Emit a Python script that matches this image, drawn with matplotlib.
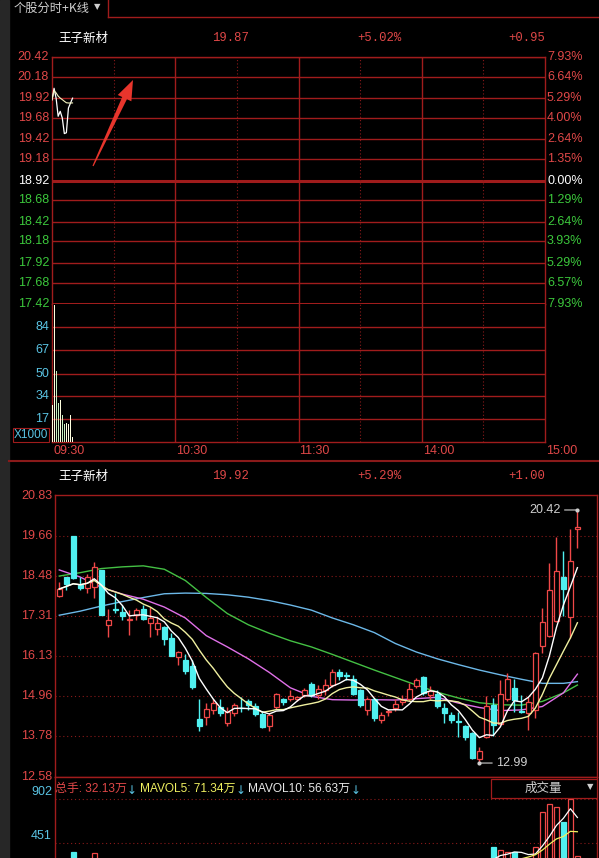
import numpy as np
import pandas as pd
import matplotlib
matplotlib.use("Agg")
import matplotlib.pyplot as plt
from matplotlib.patches import Rectangle, Polygon
from matplotlib.lines import Line2D

plt.rcParams['font.family'] = ['Liberation Sans', 'Noto Sans CJK SC', 'DejaVu Sans']

# ---------------- data ----------------
stock_name = "王子新材"
panel_title = "个股分时+K线"

# intraday minute data
intra_price = [19.90, 20.04, 19.92, 19.70, 19.76, 19.68, 19.49, 19.50, 19.80, 19.86, 19.92]
intra_vol = [27.1, 100.3, 52.2, 28.8, 30.7, 19.8, 13.2, 13.7, 13.0, 19.8, 3.9]
intra_price_ticks = [20.42, 20.18, 19.92, 19.68, 19.42, 19.18, 18.92, 18.68, 18.42, 18.18, 17.92, 17.68, 17.42]
intra_pct_labels = ["7.93%", "6.64%", "5.29%", "4.00%", "2.64%", "1.35%", "0.00%",
                    "1.29%", "2.64%", "3.93%", "5.29%", "6.57%", "7.93%"]
intra_vol_ticks = [17, 34, 50, 67, 84]
time_labels = ["09:30", "10:30", "11:30", "14:00", "15:00"]
time_pos = [0, 60, 120, 180, 240]
prev_close = 18.92
intra_header = ["19.87", "+5.02%", "+0.95"]
k_header = ["19.92", "+5.29%", "+1.00"]

# daily candles
opens = [17.89, 18.45, 19.66, 18.21, 18.12, 18.15, 18.65, 17.04, 17.52, 17.43,
         17.19, 17.33, 17.51, 17.10, 16.92, 16.99, 16.65, 16.11, 16.02, 15.84,
         14.27, 14.33, 14.55, 14.64, 14.18, 14.45, 14.62, 14.81, 14.66, 14.43,
         14.07, 14.64, 14.87, 14.87, 14.88, 14.99, 15.30, 14.99, 15.13, 15.28,
         15.67, 15.58, 15.47, 15.13, 14.55, 14.86, 14.24, 14.48, 14.61, 14.78,
         14.87, 15.24, 15.53, 14.99, 15.02, 14.60, 14.39, 14.22, 14.07, 13.86,
         13.11, 13.76, 14.69, 14.15, 14.88, 15.18, 14.53, 14.45, 14.55, 16.42,
         16.73, 17.16, 18.46, 17.29, 19.87]
closes = [18.10, 18.25, 18.41, 18.14, 18.44, 18.76, 17.35, 17.18, 17.48, 17.32,
          17.22, 17.47, 17.22, 17.26, 17.11, 16.62, 16.14, 16.24, 15.70, 15.23,
          14.07, 14.57, 14.76, 14.45, 14.50, 14.69, 14.60, 14.70, 14.42, 14.05,
          14.39, 15.02, 14.77, 14.96, 14.94, 15.13, 14.99, 15.15, 15.28, 15.67,
          15.56, 15.56, 15.03, 14.69, 14.86, 14.30, 14.39, 14.51, 14.72, 14.83,
          15.16, 15.43, 15.04, 15.10, 14.66, 14.45, 14.24, 14.20, 13.76, 13.13,
          13.35, 14.66, 14.10, 15.03, 15.46, 14.84, 14.50, 14.77, 16.21, 17.14,
          18.07, 18.63, 18.09, 18.92, 19.92]
highs = [18.31, 18.46, 19.67, 18.46, 18.55, 18.88, 18.66, 17.51, 17.97, 17.63,
         17.49, 17.55, 17.63, 17.57, 17.29, 17.00, 16.80, 16.27, 16.18, 16.02,
         14.86, 14.75, 14.86, 14.86, 14.64, 14.74, 14.92, 14.86, 14.74, 14.52,
         14.46, 15.06, 14.91, 15.14, 14.96, 15.20, 15.37, 15.27, 15.45, 15.74,
         15.75, 15.67, 15.58, 15.15, 14.93, 14.91, 14.49, 14.59, 14.86, 14.99,
         15.33, 15.50, 15.55, 15.26, 15.13, 14.75, 14.48, 14.50, 14.10, 13.90,
         13.47, 14.95, 14.90, 15.42, 15.63, 15.45, 15.00, 14.93, 16.26, 17.54,
         18.85, 19.62, 19.22, 19.85, 20.42]
lows = [17.86, 18.07, 18.38, 18.07, 17.99, 17.83, 17.33, 16.69, 17.41, 17.19,
        16.74, 17.19, 17.19, 16.69, 16.75, 16.46, 16.12, 15.87, 15.60, 15.15,
        13.94, 14.10, 14.42, 14.36, 14.07, 14.37, 14.50, 14.56, 14.36, 14.02,
        13.94, 14.57, 14.70, 14.82, 14.82, 14.92, 14.92, 14.88, 14.99, 15.22,
        15.42, 15.42, 14.99, 14.64, 14.39, 14.21, 14.18, 14.36, 14.51, 14.69,
        14.82, 15.19, 14.99, 14.87, 14.61, 14.16, 14.16, 13.75, 13.68, 13.12,
        12.99, 13.72, 13.78, 14.10, 14.82, 14.50, 14.45, 13.95, 14.30, 16.23,
        16.70, 17.14, 17.30, 16.65, 19.29]
volumes = [250, 240, 362, 210, 230, 345, 280, 200, 150, 140,
           160, 130, 150, 140, 130, 150, 170, 120, 160, 190,
           230, 170, 120, 110, 130, 120, 100, 95, 110, 130,
           140, 170, 100, 90, 80, 110, 120, 100, 130, 180,
           120, 90, 140, 150, 120, 160, 100, 80, 100, 90,
           130, 160, 180, 120, 150, 130, 110, 120, 180, 290,
           250, 280, 413, 380, 360, 362, 260, 300, 409, 772,
           850, 820, 669, 902, 321]

# long moving averages
ma_idx = [0, 3, 6, 9, 12, 15, 18, 21, 24, 27, 30, 33, 36, 39, 42, 45, 48, 51, 54, 57, 60, 63, 66, 69, 72, 74]
ma20 = [18.66, 18.45, 18.15, 17.95, 17.80, 17.57, 17.25, 16.73, 16.40, 16.05, 15.65, 15.20, 14.95,
        14.85, 14.84, 14.85, 14.84, 14.88, 14.92, 14.75, 14.62, 14.53, 14.55, 14.65, 15.05, 15.60]
ma30 = [18.48, 18.58, 18.70, 18.75, 18.78, 18.68, 18.35, 17.85, 17.38, 17.05, 16.80, 16.58, 16.40,
        16.18, 15.95, 15.72, 15.50, 15.28, 15.07, 14.90, 14.76, 14.70, 14.69, 14.80, 15.05, 15.28]
ma60 = [17.33, 17.45, 17.60, 17.73, 17.85, 17.96, 17.98, 17.97, 17.93, 17.86, 17.76, 17.63, 17.48,
        17.25, 17.05, 16.82, 16.50, 16.25, 16.05, 15.88, 15.72, 15.58, 15.45, 15.33, 15.33, 15.38]

k_price_ticks = [20.83, 19.66, 18.48, 17.31, 16.13, 14.96, 13.78, 12.58]
k_vol_ticks = [902, 451]
legend_parts = [("总手: 32.13万", '#e04848'), ("MAVOL5: 71.34万", '#f0f060'), ("MAVOL10: 56.63万", '#e8e8e8')]
vol_label = "成交量"
hi_label, lo_label = "20.42", "12.99"

# ---------------- style ----------------
W, H = 599, 858
GRID = '#a01c1c'
DOT = '#8a1a1a'
RED_T = '#e04848'
GREEN_T = '#3cc83c'
CYAN_T = '#5ac4e4'
C_RED = '#f04848'
C_CYAN = '#50f0f0'
MONO = ['Liberation Mono', 'DejaVu Sans Mono']
CJK = ['Noto Sans CJK SC', 'DejaVu Sans']

fig = plt.figure(figsize=(W / 100, H / 100), dpi=100, facecolor='black')
renderer = fig.canvas.get_renderer()


def box(x0, y0, x1, y1):
    return [x0 / W, 1 - y1 / H, (x1 - x0) / W, (y1 - y0) / H]


def fx(x):
    return x / W


def fy(y):
    return 1 - y / H


def fline(x0, y0, x1, y1, color=GRID, lw=1.0, **kw):
    fig.add_artist(Line2D([fx(x0), fx(x1)], [fy(y0), fy(y1)], transform=fig.transFigure,
                          color=color, lw=lw, **kw))


def T(x, y, s, **kw):
    kw.setdefault('va', 'center')
    return fig.text(fx(x), fy(y), s, **kw)


def style_ax(ax):
    ax.set_facecolor('black')
    ax.set_xticks([])
    ax.set_yticks([])
    for sp in ax.spines.values():
        sp.set_color(GRID)
        sp.set_linewidth(1.0)


# left gray strip and top bar
fig.add_artist(Rectangle((0, 0), fx(9), 1, transform=fig.transFigure, color='#272727', zorder=0))
T(14, 8, panel_title, color='#cfcfcf', fontsize=8.8, family=CJK)
T(97, 7, "▼", color='#cfcfcf', fontsize=6, family=['DejaVu Sans'], ha='center')
fline(108, 0, 108, 17)
fline(108, 17, 599, 17)
fline(9, 461.5, 599, 461.5, color='#8a1a1a', lw=1.5)

# ---------------- intraday price ----------------
ax1 = fig.add_axes(box(52, 57, 545, 304))
style_ax(ax1)
ax1.set_xlim(0, 240)
ax1.set_ylim(intra_price_ticks[-1], intra_price_ticks[0])
for p in intra_price_ticks:
    lw = 2.2 if p in (prev_close, intra_price_ticks[-1]) else 1.0
    ax1.axhline(p, color=GRID, lw=lw, zorder=1)
for t in time_pos[1:-1]:
    ax1.axvline(t, color=GRID, lw=1.0, zorder=1)
for t in [30, 90, 150, 210]:
    ax1.axvline(t, color=DOT, lw=0.8, ls=(0, (1, 2)), zorder=1)

minutes = np.arange(len(intra_price))
pr = np.array(intra_price)
iv = np.array(intra_vol)
vwap = np.cumsum(pr * iv) / np.cumsum(iv)
ax1.plot(minutes, pr, color='white', lw=0.9, zorder=3)
ax1.plot(minutes, vwap, color='#f4f4c0', lw=0.8, zorder=3)

ytr = ax1.get_yaxis_transform()
for p, pct in zip(intra_price_ticks, intra_pct_labels):
    c = 'white' if p == prev_close else (RED_T if p > prev_close else GREEN_T)
    ax1.text(-3 / 493, p, f"{p:.2f}", transform=ytr, ha='right', va='center', color=c, fontsize=9)
    ax1.text(1 + 2 / 493, p, pct, transform=ytr, ha='left', va='center', color=c, fontsize=9)

T(58, 38, stock_name, color='white', fontsize=9, family=CJK)
for xc, s in zip([230, 379, 527], intra_header):
    T(xc, 38, s, color=RED_T, fontsize=8.8, family=MONO, ha='center')

# red arrow annotation
tail = np.array([93.0, 166.0])
tip = np.array([133.0, 80.0])
u = (tip - tail) / np.linalg.norm(tip - tail)
n = np.array([-u[1], u[0]])
base = tip - 20 * u
pts = [tail + 0.6 * n, base + 2.6 * n, base + 7.5 * n, tip, base - 7.5 * n, base - 2.6 * n, tail - 0.6 * n]
fig.add_artist(Polygon([(fx(x), fy(y)) for x, y in pts], closed=True, transform=fig.transFigure,
                       facecolor='#e8352c', edgecolor='none'))

# ---------------- intraday volume ----------------
ax2 = fig.add_axes(box(52, 304, 545, 442))
style_ax(ax2)
ax2.spines['top'].set_visible(False)
ax2.set_xlim(0, 240)
ax2.set_ylim(0, 101)
for v in intra_vol_ticks:
    ax2.axhline(v, color=GRID, lw=1.0, zorder=1)
for t in time_pos[1:-1]:
    ax2.axvline(t, color=GRID, lw=1.0, zorder=1)
for t in [30, 90, 150, 210]:
    ax2.axvline(t, color=DOT, lw=0.8, ls=(0, (1, 2)), zorder=1)
bar_cols = ['#ffffe0' if (i == 0 or pr[i] >= pr[i - 1]) else '#c8f0c0' for i in range(len(pr))]
ax2.bar(minutes + 0.2, iv, width=0.5, color=bar_cols, zorder=3)
ytr2 = ax2.get_yaxis_transform()
for v in intra_vol_ticks:
    ax2.text(-3 / 493, v, str(v), transform=ytr2, ha='right', va='center', color=CYAN_T, fontsize=9)
fig.add_artist(Rectangle((fx(13), fy(442)), fx(36), 14 / H, transform=fig.transFigure,
                         facecolor='black', edgecolor=GRID, lw=0.8))
T(31, 435, "X1000", color=CYAN_T, fontsize=8.5, ha='center')
xtr2 = ax2.get_xaxis_transform()
for t, lab in zip(time_pos, time_labels):
    ax2.text(t + 0.5, -9 / 138, lab, transform=xtr2, ha='left', va='center', color=RED_T, fontsize=9)

# ---------------- daily K line ----------------
T(58, 476, stock_name, color='white', fontsize=9, family=CJK)
for xc, s in zip([230, 379, 527], k_header):
    T(xc, 476, s, color=RED_T, fontsize=8.8, family=MONO, ha='center')

o = np.array(opens); c = np.array(closes); h = np.array(highs); l = np.array(lows)
idx = np.arange(len(o))
up = c >= o
XL = (-0.61, 76.8)

axk = fig.add_axes(box(55, 495, 597, 777))
style_ax(axk)
axk.set_xlim(*XL)
axk.set_ylim(12.58, 20.86)
for p in k_price_ticks[1:-1]:
    axk.axhline(p, color=DOT, lw=0.8, ls=(0, (1, 2.5)), zorder=1)
ktr = axk.get_yaxis_transform()
for p in k_price_ticks:
    axk.text(-3 / 542, p, f"{p:.2f}", transform=ktr, ha='right', va='center', color=RED_T, fontsize=9)

col = np.where(up, C_RED, C_CYAN)
axk.vlines(idx, l, h, colors=col, lw=1.0, zorder=3)
body_lo = np.minimum(o, c)
body_h = np.maximum(np.abs(c - o), 0.02)
face = np.where(up, 'black', C_CYAN)
axk.bar(idx, body_h, bottom=body_lo, width=0.7, color=face, edgecolor=col, lw=0.9, zorder=4)

cs = pd.Series(c)
ma5 = cs.rolling(5, min_periods=1).mean()
ma10 = cs.rolling(10, min_periods=1).mean()
axk.plot(ma_idx, ma60, color='#6cb8e8', lw=1.0, zorder=2)
axk.plot(ma_idx, ma30, color='#44c044', lw=1.0, zorder=2)
axk.plot(ma_idx, ma20, color='#e070e8', lw=1.0, zorder=2)
axk.plot(idx, ma10, color='#f0f0a0', lw=1.0, zorder=5)
axk.plot(idx, ma5, color='white', lw=1.0, zorder=5)

hi_i = int(np.argmax(h)); lo_i = int(np.argmin(l))
axk.annotate(hi_label, xy=(hi_i, h[hi_i]), xytext=(-17, 0), textcoords='offset pixels',
             ha='right', va='center', color='#d0d0d0', fontsize=9,
             arrowprops=dict(arrowstyle='-', color='#d0d0d0', lw=0.8, shrinkA=1, shrinkB=0), zorder=6)
axk.plot([hi_i], [h[hi_i]], marker='o', ms=2, color='#d0d0d0', zorder=6)
axk.annotate(lo_label, xy=(lo_i, l[lo_i]), xytext=(17, 0), textcoords='offset pixels',
             ha='left', va='center', color='#d0d0d0', fontsize=9,
             arrowprops=dict(arrowstyle='-', color='#d0d0d0', lw=0.8, shrinkA=1, shrinkB=0), zorder=6)
axk.plot([lo_i], [l[lo_i]], marker='o', ms=2, color='#d0d0d0', zorder=6)

# ---------------- daily volume ----------------
axv = fig.add_axes(box(55, 777, 597, 887))
style_ax(axv)
axv.spines['bottom'].set_visible(False)
axv.set_xlim(*XL)
axv.set_ylim(0, 1127.5)
for v in k_vol_ticks:
    axv.axhline(v, color=DOT, lw=0.8, ls=(0, (1, 2.5)), zorder=1)
vtr = axv.get_yaxis_transform()
for v in k_vol_ticks:
    axv.text(-3 / 542, v + 8, str(v), transform=vtr, ha='right', va='bottom', color=CYAN_T, fontsize=9)
vol = np.array(volumes, dtype=float)
axv.bar(idx, vol, width=0.7, color=face, edgecolor=col, lw=0.9, zorder=3)
vs = pd.Series(vol)
axv.plot(idx, vs.rolling(5, min_periods=1).mean(), color='white', lw=0.9, zorder=4)
axv.plot(idx, vs.rolling(10, min_periods=1).mean(), color='#f0f060', lw=0.9, zorder=4)

# legend row: chain the pieces using measured widths
x_cur = 55.0
for s, cc in legend_parts:
    t = T(x_cur, 789, s, color=cc, fontsize=8.6, family=['Liberation Sans', 'Noto Sans CJK SC'])
    bb = t.get_window_extent(renderer=renderer)
    x_cur += bb.width
    a = T(x_cur, 790, "↓", color=CYAN_T, fontsize=8.6, family=['DejaVu Sans'])
    x_cur += a.get_window_extent(renderer=renderer).width + 3
fig.add_artist(Rectangle((fx(491), fy(798)), fx(106), 19 / H, transform=fig.transFigure,
                         facecolor='black', edgecolor=GRID, lw=0.9))
T(543, 788, vol_label, color='#cfcfcf', fontsize=9, family=CJK, ha='center')
T(590, 787, "▼", color='#cfcfcf', fontsize=6, family=['DejaVu Sans'], ha='center')

fig.savefig("out.png", dpi=100, facecolor='black')
